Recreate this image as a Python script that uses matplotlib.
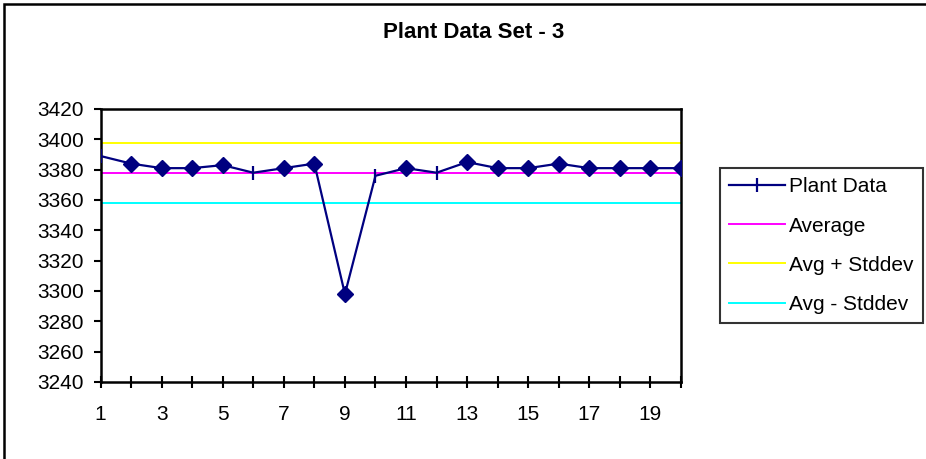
import matplotlib
matplotlib.use("Agg")
import matplotlib.pyplot as plt
from matplotlib.patches import Rectangle
from matplotlib.lines import Line2D

plt.rcParams["font.family"] = ["Liberation Sans", "DejaVu Sans"]

# ── data ─────────────────────────────────────────────────────────
samples = list(range(1, 21))
plant_data = [3389, 3384, 3381, 3381, 3383, 3378, 3381, 3384, 3298, 3376,
              3381, 3378, 3385, 3381, 3381, 3384, 3381, 3381, 3381, 3381]
average = 3377.5
avg_plus_std = 3397.8
avg_minus_std = 3358.2
plain_points = [1, 6, 10, 12]   # points drawn without the diamond
y_ticks = list(range(3240, 3421, 20))
x_ticks = list(range(1, 20, 2))

NAVY = "#000080"

fig = plt.figure(figsize=(9.26, 4.59), dpi=100)

# outer chart frame
fig.patches.append(Rectangle((4 / 926, -0.1), 1.2, 1 - 4 / 459 + 0.1,
                             transform=fig.transFigure, fill=False,
                             edgecolor="black", linewidth=1.8))

ax = fig.add_axes([100.5 / 926, (459 - 382) / 459, 580.5 / 926, 273 / 459])

ax.axhline(average, color="#ff00ff", linewidth=1.4, zorder=2)
ax.axhline(avg_plus_std, color="#ffff00", linewidth=1.4, zorder=2)
ax.axhline(avg_minus_std, color="#00ffff", linewidth=1.4, zorder=2)

ax.plot(samples, plant_data, color=NAVY, linewidth=1.6, marker="|",
        markersize=9.5, markeredgewidth=1.6, zorder=3)
dx = [s for s in samples if s not in plain_points]
dy = [plant_data[s - 1] for s in dx]
ax.plot(dx, dy, linestyle="none", marker="D", markersize=8,
        color=NAVY, markeredgecolor=NAVY, zorder=4)

ax.set_xlim(1, 20)
ax.set_ylim(3240, 3420)
ax.set_yticks(y_ticks)
ax.set_xticks(samples)
ax.set_xticklabels([str(s) if s in x_ticks else "" for s in samples])
ax.tick_params(axis="y", direction="out", length=5, width=1.5, labelsize=15, pad=7)
ax.tick_params(axis="x", direction="inout", length=9, width=1.5, labelsize=15, pad=12)
for sp in ax.spines.values():
    sp.set_linewidth(1.8)

fig.text(474 / 926, 1 - 33 / 459, "Plant Data Set - 3", ha="center", va="center",
         fontsize=16, fontweight="bold")

handles = [
    Line2D([], [], color=NAVY, linewidth=1.6, marker="|", markersize=9.5, markeredgewidth=1.6),
    Line2D([], [], color="#ff00ff", linewidth=1.4),
    Line2D([], [], color="#ffff00", linewidth=1.4),
    Line2D([], [], color="#00ffff", linewidth=1.4),
]
labels = ["Plant Data", "Average", "Avg + Stddev", "Avg - Stddev"]
leg = fig.legend(handles, labels, loc="upper left",
                 bbox_to_anchor=(720 / 926, 1 - 168 / 459), fontsize=15,
                 frameon=True, fancybox=False, handlelength=2.65,
                 handletextpad=0.2, labelspacing=0.97, borderpad=0.45,
                 borderaxespad=0)
leg.get_frame().set_edgecolor("black")
leg.get_frame().set_linewidth(1.5)

fig.savefig("out.png", dpi=100)
